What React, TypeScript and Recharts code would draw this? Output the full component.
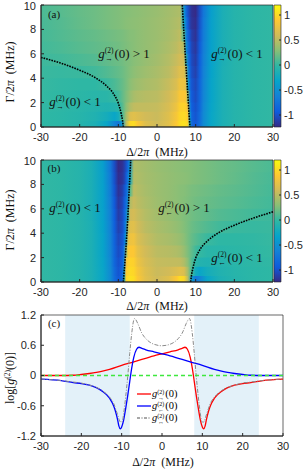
import { ComposedChart, BarChart, Bar, Line, XAxis, YAxis, ReferenceArea } from 'recharts';

// colour scale (parula-like), shared by both maps
const parulaStops = ['#352a87', '#0f5cdd', '#1481d6', '#06a4ca', '#2eb7a4', '#87bf77', '#d1bb59', '#fec832', '#f9fb0e'];
const colorMin = -1.24;
const colorMax = 1.2;
const colorbarTicks = [-1, -0.5, 0, 0.5, 1];
const colorbarRange = [{ lo: colorMin, hi: colorMax }];

// axes
const detuningTicks = [-30, -20, -10, 0, 10, 20, 30];
const gammaTicks = [0, 2, 4, 6, 8, 10];
const logTicks = [-1.2, -0.6, 0, 0.6, 1.2];

// heat maps: Gamma bands (bottom -> top) and log g2 read along Delta in each band
const gammaBands = [0, 0.5, 1.25, 2, 3, 4, 5, 6, 7, 8, 9, 10];

const detuningA = [-30, -25, -20, -16, -13, -11, -10, -9, -8, -7, -6, -5, -3, 0, 3, 5, 6, 7, 7.5, 8, 8.5, 9, 10, 11, 12, 14, 17, 20, 25, 30];
const mapA = [
  [-0.02, -0.04, -0.08, -0.15, -0.3, -0.6, -0.72, -0.4, 0.5, 0.98, 1.02, 0.88, 0.68, 0.58, 0.7, 0.88, 1.02, 1.05, 1.02, 0.95, -0.2, -0.85, -0.96, -0.8, -0.55, -0.3, -0.15, -0.08, -0.03, -0.01],
  [-0.02, -0.04, -0.07, -0.12, -0.2, -0.3, -0.22, 0.05, 0.4, 0.65, 0.7, 0.66, 0.6, 0.56, 0.68, 0.84, 0.98, 1.0, 0.97, 0.88, -0.4, -0.88, -0.98, -0.82, -0.56, -0.3, -0.15, -0.08, -0.03, -0.01],
  [-0.01, -0.03, -0.06, -0.09, -0.12, -0.1, -0.05, 0.1, 0.3, 0.45, 0.52, 0.53, 0.53, 0.54, 0.64, 0.78, 0.94, 0.96, 0.92, 0.75, -0.6, -0.92, -1.0, -0.85, -0.58, -0.31, -0.15, -0.08, -0.03, -0.01],
  [0.0, -0.02, -0.04, -0.06, -0.05, 0.0, 0.05, 0.15, 0.25, 0.35, 0.42, 0.45, 0.48, 0.5, 0.6, 0.72, 0.88, 0.88, 0.84, 0.3, -0.72, -0.95, -1.03, -0.86, -0.6, -0.32, -0.15, -0.08, -0.03, -0.01],
  [0.01, -0.01, -0.02, -0.02, 0.02, 0.08, 0.12, 0.17, 0.23, 0.3, 0.35, 0.38, 0.42, 0.46, 0.55, 0.65, 0.8, 0.78, 0.7, -0.35, -0.8, -0.98, -1.06, -0.88, -0.61, -0.32, -0.15, -0.08, -0.03, -0.01],
  [0.02, 0.01, 0.02, 0.05, 0.1, 0.14, 0.16, 0.19, 0.23, 0.27, 0.31, 0.34, 0.38, 0.43, 0.5, 0.6, 0.7, 0.68, 0.45, -0.55, -0.85, -1.02, -1.1, -0.9, -0.63, -0.33, -0.15, -0.08, -0.03, -0.01],
  [0.03, 0.05, 0.08, 0.11, 0.15, 0.18, 0.19, 0.21, 0.24, 0.26, 0.29, 0.31, 0.35, 0.4, 0.47, 0.55, 0.62, 0.58, -0.1, -0.7, -0.9, -1.05, -1.13, -0.92, -0.65, -0.34, -0.16, -0.08, -0.03, -0.01],
  [0.05, 0.08, 0.12, 0.15, 0.18, 0.2, 0.21, 0.23, 0.25, 0.27, 0.29, 0.31, 0.34, 0.38, 0.44, 0.5, 0.56, 0.45, -0.5, -0.78, -0.95, -1.08, -1.16, -0.95, -0.66, -0.35, -0.16, -0.08, -0.03, -0.01],
  [0.06, 0.1, 0.14, 0.17, 0.2, 0.22, 0.23, 0.24, 0.26, 0.28, 0.29, 0.31, 0.34, 0.37, 0.42, 0.47, 0.52, 0.1, -0.6, -0.85, -1.0, -1.12, -1.19, -0.97, -0.68, -0.35, -0.16, -0.08, -0.03, -0.01],
  [0.07, 0.11, 0.16, 0.2, 0.23, 0.25, 0.26, 0.27, 0.29, 0.3, 0.31, 0.32, 0.34, 0.37, 0.41, 0.45, 0.48, -0.3, -0.7, -0.95, -1.1, -1.18, -1.22, -1.0, -0.7, -0.36, -0.16, -0.08, -0.03, -0.01],
  [0.08, 0.12, 0.17, 0.2, 0.23, 0.25, 0.26, 0.27, 0.28, 0.29, 0.3, 0.31, 0.33, 0.36, 0.4, 0.43, 0.45, -0.45, -0.8, -1.0, -1.12, -1.2, -1.24, -1.02, -0.72, -0.37, -0.16, -0.08, -0.03, -0.01],
];

const detuningB = [-30, -25, -20, -17, -14, -12, -11, -10, -9, -8.5, -8, -7.5, -7, -6, -5, -3, 0, 3, 5, 6, 7, 8, 9, 10, 11, 13, 16, 20, 25, 30];
const mapB = [
  [-0.01, -0.03, -0.08, -0.15, -0.3, -0.55, -0.8, -0.96, -0.85, -0.2, 0.95, 1.02, 1.05, 1.02, 0.88, 0.7, 0.58, 0.68, 0.88, 1.02, 0.98, 0.5, -0.4, -0.72, -0.6, -0.3, -0.15, -0.08, -0.04, -0.02],
  [-0.01, -0.03, -0.08, -0.15, -0.3, -0.56, -0.82, -0.98, -0.88, -0.4, 0.88, 0.97, 1.0, 0.98, 0.84, 0.68, 0.56, 0.6, 0.66, 0.7, 0.65, 0.4, 0.05, -0.22, -0.3, -0.2, -0.12, -0.07, -0.04, -0.02],
  [-0.01, -0.03, -0.08, -0.15, -0.31, -0.58, -0.85, -1.0, -0.92, -0.6, 0.75, 0.92, 0.96, 0.94, 0.78, 0.64, 0.54, 0.53, 0.53, 0.52, 0.45, 0.3, 0.1, -0.05, -0.1, -0.12, -0.09, -0.06, -0.03, -0.01],
  [-0.01, -0.03, -0.08, -0.15, -0.32, -0.6, -0.86, -1.03, -0.95, -0.72, 0.3, 0.84, 0.88, 0.88, 0.72, 0.6, 0.5, 0.48, 0.45, 0.42, 0.35, 0.25, 0.15, 0.05, 0.0, -0.05, -0.06, -0.04, -0.02, 0.0],
  [-0.01, -0.03, -0.08, -0.15, -0.32, -0.61, -0.88, -1.06, -0.98, -0.8, -0.35, 0.7, 0.78, 0.8, 0.65, 0.55, 0.46, 0.42, 0.38, 0.35, 0.3, 0.23, 0.17, 0.12, 0.08, 0.02, -0.02, -0.02, -0.01, 0.01],
  [-0.01, -0.03, -0.08, -0.15, -0.33, -0.63, -0.9, -1.1, -1.02, -0.85, -0.55, 0.45, 0.68, 0.7, 0.6, 0.5, 0.43, 0.38, 0.34, 0.31, 0.27, 0.23, 0.19, 0.16, 0.14, 0.1, 0.05, 0.02, 0.01, 0.02],
  [-0.01, -0.03, -0.08, -0.16, -0.34, -0.65, -0.92, -1.13, -1.05, -0.9, -0.7, -0.1, 0.58, 0.62, 0.55, 0.47, 0.4, 0.35, 0.31, 0.29, 0.26, 0.24, 0.21, 0.19, 0.18, 0.15, 0.11, 0.08, 0.05, 0.03],
  [-0.01, -0.03, -0.08, -0.16, -0.35, -0.66, -0.95, -1.16, -1.08, -0.95, -0.78, -0.5, 0.45, 0.56, 0.5, 0.44, 0.38, 0.34, 0.31, 0.29, 0.27, 0.25, 0.23, 0.21, 0.2, 0.18, 0.15, 0.12, 0.08, 0.05],
  [-0.01, -0.03, -0.08, -0.16, -0.35, -0.68, -0.97, -1.19, -1.12, -1.0, -0.85, -0.6, 0.1, 0.52, 0.47, 0.42, 0.37, 0.34, 0.31, 0.29, 0.28, 0.26, 0.24, 0.23, 0.22, 0.2, 0.17, 0.14, 0.1, 0.06],
  [-0.01, -0.03, -0.08, -0.16, -0.36, -0.7, -1.0, -1.22, -1.18, -1.1, -0.95, -0.7, -0.3, 0.48, 0.45, 0.41, 0.37, 0.34, 0.32, 0.31, 0.3, 0.29, 0.27, 0.26, 0.25, 0.23, 0.2, 0.16, 0.11, 0.07],
  [-0.01, -0.03, -0.08, -0.16, -0.37, -0.72, -1.02, -1.24, -1.2, -1.12, -1.0, -0.8, -0.45, 0.45, 0.43, 0.4, 0.36, 0.33, 0.31, 0.3, 0.29, 0.28, 0.27, 0.26, 0.25, 0.23, 0.2, 0.17, 0.12, 0.08],
];

// g2 = 1 contours (Delta, Gamma)
const contourA1 = [{ d: -30, g: 5.7 }, { d: -25, g: 5.25 }, { d: -20, g: 4.65 }, { d: -16, g: 4.05 }, { d: -13, g: 3.35 }, { d: -11, g: 2.6 }, { d: -10, g: 1.95 }, { d: -9.3, g: 1.15 }, { d: -8.9, g: 0.5 }, { d: -8.7, g: 0 }];
const contourA2 = [{ d: 6.55, g: 10 }, { d: 7.0, g: 7.5 }, { d: 7.5, g: 5 }, { d: 8.0, g: 2.5 }, { d: 8.3, g: 1.0 }, { d: 8.53, g: 0 }];
const contourB1 = [{ d: -8.7, g: 0 }, { d: -8.45, g: 1.0 }, { d: -8.1, g: 2.5 }, { d: -7.6, g: 5 }, { d: -7.2, g: 7.5 }, { d: -6.8, g: 10 }];
const contourB2 = [{ d: 8.7, g: 0 }, { d: 8.9, g: 0.5 }, { d: 9.3, g: 1.15 }, { d: 10, g: 1.95 }, { d: 11, g: 2.6 }, { d: 13, g: 3.35 }, { d: 16, g: 4.05 }, { d: 20, g: 4.65 }, { d: 25, g: 5.25 }, { d: 30, g: 5.75 }];

// panel (c): cuts of log g2
const shadedRanges = [[-24, -8], [8, 24]];
const cutForward = [
  { d: -30, v: 0.0 }, { d: -25, v: 0.0 }, { d: -22, v: 0.005 }, { d: -20, v: 0.02 }, { d: -18, v: 0.04 }, { d: -15, v: 0.08 },
  { d: -13, v: 0.12 }, { d: -10, v: 0.2 }, { d: -7, v: 0.27 }, { d: -5, v: 0.32 }, { d: -2, v: 0.39 }, { d: 0, v: 0.43 },
  { d: 2, v: 0.47 }, { d: 4, v: 0.51 }, { d: 5, v: 0.54 }, { d: 5.7, v: 0.56 }, { d: 6.3, v: 0.52 }, { d: 7, v: 0.36 },
  { d: 7.5, v: 0.15 }, { d: 8, v: -0.12 }, { d: 8.5, v: -0.4 }, { d: 9, v: -0.65 }, { d: 9.5, v: -0.88 }, { d: 10, v: -1.02 },
  { d: 10.3, v: -1.06 }, { d: 10.7, v: -1.0 }, { d: 11, v: -0.88 }, { d: 11.5, v: -0.72 }, { d: 12, v: -0.6 }, { d: 13, v: -0.45 },
  { d: 15, v: -0.3 }, { d: 18, v: -0.19 }, { d: 20, v: -0.16 }, { d: 22, v: -0.14 }, { d: 25, v: -0.1 }, { d: 30, v: -0.07 },
];
const cutBackward = [
  { d: -30, v: -0.07 }, { d: -25, v: -0.1 }, { d: -22, v: -0.14 }, { d: -20, v: -0.16 }, { d: -18, v: -0.19 }, { d: -15, v: -0.3 },
  { d: -13, v: -0.45 }, { d: -12, v: -0.6 }, { d: -11.5, v: -0.72 }, { d: -11, v: -0.88 }, { d: -10.7, v: -1.0 }, { d: -10.3, v: -1.06 },
  { d: -10, v: -1.02 }, { d: -9.5, v: -0.88 }, { d: -9, v: -0.65 }, { d: -8.5, v: -0.4 }, { d: -8, v: -0.12 }, { d: -7.5, v: 0.15 },
  { d: -7, v: 0.36 }, { d: -6.3, v: 0.52 }, { d: -5.7, v: 0.56 }, { d: -5, v: 0.54 }, { d: -4, v: 0.51 }, { d: -2, v: 0.47 },
  { d: 0, v: 0.43 }, { d: 2, v: 0.39 }, { d: 5, v: 0.32 }, { d: 7, v: 0.27 }, { d: 10, v: 0.2 }, { d: 13, v: 0.12 },
  { d: 15, v: 0.08 }, { d: 18, v: 0.04 }, { d: 20, v: 0.02 }, { d: 22, v: 0.005 }, { d: 25, v: 0.0 }, { d: 30, v: 0.0 },
];
const cutBoth = [
  { d: -30, v: -0.07 }, { d: -25, v: -0.1 }, { d: -22, v: -0.13 }, { d: -20, v: -0.15 }, { d: -18, v: -0.19 }, { d: -15, v: -0.29 },
  { d: -13, v: -0.43 }, { d: -12, v: -0.55 }, { d: -11.5, v: -0.66 }, { d: -11, v: -0.78 }, { d: -10.5, v: -0.9 }, { d: -10.2, v: -0.93 },
  { d: -9.8, v: -0.9 }, { d: -9.5, v: -0.75 }, { d: -9, v: -0.42 }, { d: -8.5, v: -0.02 }, { d: -8, v: 0.44 }, { d: -7.5, v: 0.84 },
  { d: -7, v: 1.1 }, { d: -6.8, v: 1.13 }, { d: -6.3, v: 1.08 }, { d: -6, v: 1.03 }, { d: -5, v: 0.84 }, { d: -4, v: 0.73 },
  { d: -3, v: 0.66 }, { d: -2, v: 0.62 }, { d: 0, v: 0.59 }, { d: 2, v: 0.62 }, { d: 3, v: 0.66 }, { d: 4, v: 0.73 },
  { d: 5, v: 0.84 }, { d: 6, v: 1.03 }, { d: 6.3, v: 1.08 }, { d: 6.8, v: 1.13 }, { d: 7, v: 1.1 }, { d: 7.5, v: 0.84 },
  { d: 8, v: 0.44 }, { d: 8.5, v: -0.02 }, { d: 9, v: -0.42 }, { d: 9.5, v: -0.75 }, { d: 9.8, v: -0.9 }, { d: 10.2, v: -0.93 },
  { d: 10.5, v: -0.9 }, { d: 11, v: -0.78 }, { d: 11.5, v: -0.66 }, { d: 12, v: -0.55 }, { d: 13, v: -0.43 }, { d: 15, v: -0.29 },
  { d: 18, v: -0.19 }, { d: 20, v: -0.15 }, { d: 22, v: -0.13 }, { d: 25, v: -0.1 }, { d: 30, v: -0.07 },
];
const cutCoherent = [{ d: -30, v: 0 }, { d: 30, v: 0 }];

const mathFont = '"Liberation Serif", "DejaVu Serif", serif';
const tickFont = '"Liberation Sans", Arial, sans-serif';
const ink = '#262626';
const tickStyle = { fontSize: 11, fill: ink, fontFamily: tickFont };

function hexToRgb(h: string) {
  return [parseInt(h.slice(1, 3), 16), parseInt(h.slice(3, 5), 16), parseInt(h.slice(5, 7), 16)];
}

function colorOf(v: number) {
  const t = Math.min(1, Math.max(0, (v - colorMin) / (colorMax - colorMin)));
  const p = t * (parulaStops.length - 1);
  const i = Math.min(parulaStops.length - 2, Math.floor(p));
  const f = p - i;
  const a = hexToRgb(parulaStops[i]);
  const b = hexToRgb(parulaStops[i + 1]);
  const c = a.map((x, k) => Math.round(x + (b[k] - x) * f));
  return `rgb(${c[0]},${c[1]},${c[2]})`;
}

// g with (2) on top and a direction arrow below, then (0)
function G({ sub }: { sub: string }) {
  return (
    <span style={{ whiteSpace: 'nowrap', display: 'inline-flex', alignItems: 'center' }}>
      <i>g</i>
      <span
        style={{
          display: 'inline-flex',
          flexDirection: 'column',
          alignItems: 'center',
          fontSize: '0.58em',
          lineHeight: 1,
          margin: '0 1px 0 0',
          transform: 'translateY(1px)',
        }}
      >
        <span>(2)</span>
        <span>{sub}</span>
      </span>
      <span>(0)</span>
    </span>
  );
}

function At({ x, y, size = 13, rotate = false, children }: any) {
  return (
    <div
      style={{
        position: 'absolute',
        left: x,
        top: y,
        transform: `translate(-50%, -50%)${rotate ? ' rotate(-90deg)' : ''}`,
        fontFamily: mathFont,
        fontSize: size,
        color: '#111',
        whiteSpace: 'nowrap',
        lineHeight: 1,
        display: 'flex',
        alignItems: 'center',
        gap: 3,
      }}
    >
      {children}
    </div>
  );
}

function HeatPanel({ id, top, detuning, map, contours }: any) {
  return (
    <>
      <div style={{ position: 'absolute', left: 0, top }}>
        <ComposedChart width={304} height={150} margin={{ top: 5, right: 31, bottom: 3, left: 0 }}>
          <defs>
            {map.map((row: number[], r: number) => (
              <linearGradient key={r} id={`${id}-row${r}`} x1="0" y1="0" x2="1" y2="0">
                {row.map((v, c) => (
                  <stop key={c} offset={(detuning[c] + 30) / 60} stopColor={colorOf(v)} />
                ))}
              </linearGradient>
            ))}
          </defs>
          <XAxis
            type="number"
            dataKey="d"
            domain={[-30, 30]}
            ticks={detuningTicks}
            height={20}
            tickSize={-3}
            tickMargin={9}
            tick={tickStyle}
            axisLine={{ stroke: ink }}
            tickLine={{ stroke: ink }}
          />
          <YAxis
            type="number"
            dataKey="g"
            domain={[0, 10]}
            ticks={gammaTicks}
            width={41}
            tickSize={-3}
            tickMargin={8}
            tick={tickStyle}
            axisLine={{ stroke: ink }}
            tickLine={{ stroke: ink }}
          />
          {map.map((_: number[], r: number) => (
            <ReferenceArea
              key={r}
              x1={-30}
              x2={30}
              y1={gammaBands[r]}
              y2={Math.min(10, gammaBands[r + 1] + 0.1)}
              fill={`url(#${id}-row${r})`}
              fillOpacity={1}
              stroke="none"
            />
          ))}
          {contours.map((c: any[], i: number) => (
            <Line
              key={i}
              data={c}
              dataKey="g"
              type="monotone"
              stroke="#000"
              strokeWidth={1.6}
              strokeDasharray="1.6 1.1"
              dot={false}
              activeDot={false}
              isAnimationActive={false}
            />
          ))}
          <ReferenceArea x1={-30} x2={30} y1={0} y2={10} fill="none" stroke={ink} strokeWidth={0.7} />
        </ComposedChart>
      </div>
      <div style={{ position: 'absolute', left: 270, top }}>
        <BarChart
          width={60}
          height={150}
          data={colorbarRange}
          margin={{ top: 5, right: 0, bottom: 23, left: 4 }}
          barCategoryGap={0}
        >
          <defs>
            <linearGradient id={`${id}-cbar`} x1="0" y1="1" x2="0" y2="0">
              {parulaStops.map((c, i) => (
                <stop key={i} offset={i / (parulaStops.length - 1)} stopColor={c} />
              ))}
            </linearGradient>
          </defs>
          <XAxis type="category" hide />
          <YAxis
            type="number"
            orientation="right"
            domain={[colorMin, colorMax]}
            ticks={colorbarTicks}
            width={49}
            tickSize={-2}
            tickMargin={5}
            tick={tickStyle}
            axisLine={false}
            tickLine={{ stroke: ink }}
          />
          <Bar
            dataKey={(d: any) => [d.lo, d.hi]}
            fill={`url(#${id}-cbar)`}
            stroke={ink}
            strokeWidth={0.6}
            isAnimationActive={false}
          />
        </BarChart>
      </div>
    </>
  );
}

function CutPanel({ top }: { top: number }) {
  const lineProps = { dataKey: 'v', type: 'monotone' as const, dot: false, activeDot: false, isAnimationActive: false };
  return (
    <div style={{ position: 'absolute', left: 0, top }}>
      <ComposedChart width={304} height={164} margin={{ top: 10, right: 21, bottom: 13, left: 0 }}>
        <XAxis
          type="number"
          dataKey="d"
          domain={[-30, 30]}
          ticks={detuningTicks}
          height={20}
          tickSize={-3}
          tickMargin={9}
          tick={tickStyle}
          axisLine={{ stroke: ink }}
          tickLine={{ stroke: ink }}
        />
        <YAxis
          type="number"
          domain={[-1.2, 1.2]}
          ticks={logTicks}
          width={41}
          tickSize={-3}
          tickMargin={8}
          tick={tickStyle}
          axisLine={{ stroke: ink }}
          tickLine={{ stroke: ink }}
        />
        {shadedRanges.map(([a, b], i) => (
          <ReferenceArea key={i} x1={a} x2={b} y1={-1.2} y2={1.2} fill="#e3f1f9" fillOpacity={1} stroke="none" />
        ))}
        <Line {...lineProps} data={cutForward} stroke="#ff0000" strokeWidth={1.3} />
        <Line {...lineProps} data={cutBackward} stroke="#0000ff" strokeWidth={1.3} />
        <Line {...lineProps} data={cutBoth} stroke="#8a8a8a" strokeWidth={1} strokeDasharray="4 1.5 1 1.5" />
        <Line {...lineProps} data={cutCoherent} type="linear" stroke="#3ee83e" strokeWidth={1.6} strokeDasharray="4 3" />
        <ReferenceArea x1={-30} x2={30} y1={-1.2} y2={1.2} fill="none" stroke={ink} strokeWidth={0.7} />
      </ComposedChart>
    </div>
  );
}

function LegendRow({ y, color, dash, sub }: any) {
  return (
    <div style={{ position: 'absolute', left: 137, top: y - 7, height: 14, display: 'flex', alignItems: 'center' }}>
      <svg width={14} height={12}>
        <line x1={0} y1={6} x2={14} y2={6} stroke={color} strokeWidth={1.3} strokeDasharray={dash} />
      </svg>
      <span style={{ fontFamily: mathFont, fontSize: 10.5, marginLeft: 1, lineHeight: 1 }}>
        <G sub={sub} />
      </span>
    </div>
  );
}

export default function App() {
  return (
    <div
      style={{
        position: 'absolute',
        left: 0,
        top: 0,
        width: 304,
        height: 469,
        background: '#fff',
        overflow: 'hidden',
      }}
    >
      <HeatPanel id="ma" top={0} detuning={detuningA} map={mapA} contours={[contourA1, contourA2]} />
      <HeatPanel id="mb" top={155} detuning={detuningB} map={mapB} contours={[contourB1, contourB2]} />
      <CutPanel top={305} />

      {/* panel (a) text */}
      <At x={54} y={14} size={11}>(a)</At>
      <At x={124} y={54}><G sub="→" /><span>&gt; 1</span></At>
      <At x={237} y={54}><G sub="→" /><span>&lt; 1</span></At>
      <At x={75} y={102}><G sub="→" /><span>&lt; 1</span></At>
      <At x={157} y={152} size={12}><span>Δ/2<i>π</i>&nbsp;&nbsp;(MHz)</span></At>
      <At x={10} y={72} size={12} rotate><span>Γ/2<i>π</i>&nbsp;&nbsp;(MHz)</span></At>

      {/* panel (b) text */}
      <At x={54} y={168} size={11}>(b)</At>
      <At x={75} y={208}><G sub="←" /><span>&lt; 1</span></At>
      <At x={184} y={208}><G sub="←" /><span>&gt; 1</span></At>
      <At x={237} y={258}><G sub="←" /><span>&lt; 1</span></At>
      <At x={157} y={306} size={12}><span>Δ/2<i>π</i>&nbsp;&nbsp;(MHz)</span></At>
      <At x={10} y={220} size={12} rotate><span>Γ/2<i>π</i>&nbsp;&nbsp;(MHz)</span></At>

      {/* panel (c) text */}
      <At x={54} y={323} size={11}>(c)</At>
      <At x={163} y={462} size={12}><span>Δ/2<i>π</i>&nbsp;&nbsp;(MHz)</span></At>
      <At x={10} y={378} size={12} rotate>
        <span>
          log[<i>g</i>
          <span style={{ fontSize: '0.62em', verticalAlign: '0.55em' }}>(2)</span>(0)]
        </span>
      </At>
      <LegendRow y={394} color="#ff0000" sub="→" />
      <LegendRow y={406} color="#0000ff" sub="←" />
      <LegendRow y={418} color="#8a8a8a" dash="3 1.5 1 1.5" sub="↔" />
    </div>
  );
}
